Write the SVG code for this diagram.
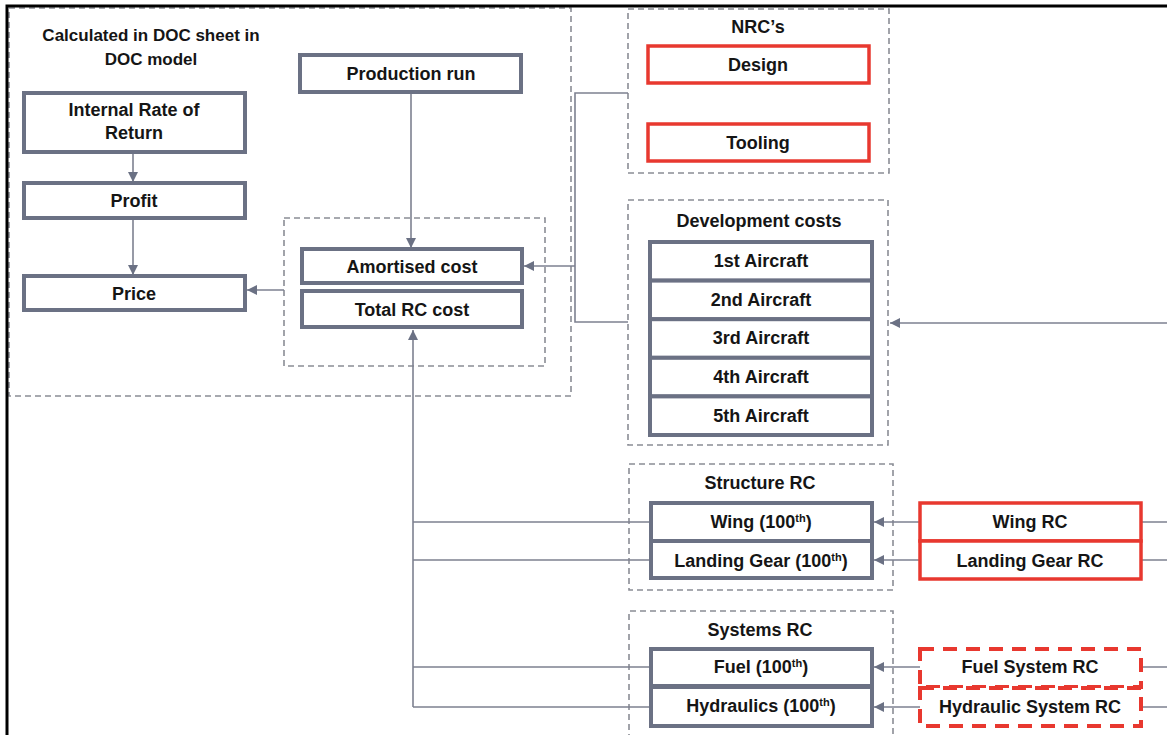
<svg xmlns="http://www.w3.org/2000/svg" width="1167" height="735" viewBox="0 0 1167 735">
<defs>
<style>
text{font-family:"Liberation Sans",Arial,sans-serif;font-weight:bold;font-size:18px;fill:#151515;text-anchor:middle}
.t{font-size:17px}
.box{fill:#fff;stroke:#6b7184;stroke-width:4}
.red{fill:#fff;stroke:#e8382f;stroke-width:3.5}
.reddash{fill:#fff;stroke:#e8382f;stroke-width:4;stroke-dasharray:14 9}
.grp{fill:none;stroke:#8a8d95;stroke-width:1.6;stroke-dasharray:6 4}
.c{fill:none;stroke:#7d8190;stroke-width:1.6}
.frame{stroke:#000;stroke-width:3;fill:none}
.sup{font-size:11px}
</style>
<marker id="ah" viewBox="0 0 10 10" refX="10" refY="5" markerWidth="10" markerHeight="10" markerUnits="userSpaceOnUse" orient="auto">
<path d="M0,0 L10,5 L0,10 Z" fill="#6b7184"/>
</marker>
</defs>
<rect width="1167" height="735" fill="#fff"/>

<g id="groups">
<rect id="doc-group" class="grp" x="9" y="8" width="562" height="388"/>
<rect id="cost-group" class="grp" x="284" y="218" width="261" height="148"/>
<rect id="nrc-group" class="grp" x="628" y="9" width="261" height="164"/>
<rect id="dev-group" class="grp" x="628" y="200" width="260" height="245"/>
<rect id="struct-group" class="grp" x="629" y="464" width="264" height="126"/>
<path id="sys-group" class="grp" d="M629,740 V611 H893 V740"/>
</g>

<g id="frame">
<path class="frame" d="M7,735 V6 H1167"/>
</g>

<g id="connectors">
<path class="c" d="M133,152 V182" marker-end="url(#ah)"/>
<path class="c" d="M133,218 V275" marker-end="url(#ah)"/>
<path class="c" d="M411,92 V248" marker-end="url(#ah)"/>
<path class="c" d="M284,290 H247" marker-end="url(#ah)"/>
<path class="c" d="M628,93 H575 V322 H628"/>
<path class="c" d="M575,266 H524" marker-end="url(#ah)"/>
<path class="c" d="M1167,323 H890" marker-end="url(#ah)"/>
<path class="c" d="M920,522 H874" marker-end="url(#ah)"/>
<path class="c" d="M920,560 H874" marker-end="url(#ah)"/>
<path class="c" d="M920,667 H874" marker-end="url(#ah)"/>
<path class="c" d="M920,707 H874" marker-end="url(#ah)"/>
<path class="c" d="M1141,522 H1167 M1141,560 H1167 M1141,667 H1167 M1141,707 H1167"/>
<path class="c" d="M651,522 H413 M651,560 H413 M651,667 H413 M651,707 H413"/>
<path class="c" d="M413,707 V330" marker-end="url(#ah)"/>
</g>

<g id="doc-title">
<text class="t" x="151" y="41">Calculated in DOC sheet in</text>
<text class="t" x="151" y="65">DOC model</text>
</g>

<g id="irr">
<rect class="box" x="24" y="93" width="221" height="59"/>
<text x="134" y="116">Internal Rate of</text>
<text x="134" y="139">Return</text>
</g>
<g id="profit">
<rect class="box" x="24" y="183" width="221" height="35"/>
<text x="134" y="207">Profit</text>
</g>
<g id="price">
<rect class="box" x="24" y="276" width="221" height="34"/>
<text x="134" y="300">Price</text>
</g>
<g id="production-run">
<rect class="box" x="300" y="55" width="221" height="37"/>
<text x="411" y="80">Production run</text>
</g>
<g id="amortised-cost">
<rect class="box" x="302" y="249" width="220" height="34"/>
<text x="412" y="273">Amortised cost</text>
</g>
<g id="total-rc-cost">
<rect class="box" x="302" y="291" width="220" height="36"/>
<text x="412" y="316">Total RC cost</text>
</g>

<g id="nrcs">
<text x="758" y="33">NRC’s</text>
</g>
<g id="design">
<rect class="red" x="648" y="46" width="221" height="37"/>
<text x="758" y="71">Design</text>
</g>
<g id="tooling">
<rect class="red" x="648" y="124" width="221" height="37"/>
<text x="758" y="149">Tooling</text>
</g>

<g id="development-costs">
<text x="759" y="227">Development costs</text>
</g>
<g id="aircraft-1">
<rect class="box" x="650" y="242" width="222" height="38.6"/>
<text x="761" y="267">1st Aircraft</text>
</g>
<g id="aircraft-2">
<rect class="box" x="650" y="280.6" width="222" height="38.6"/>
<text x="761" y="306">2nd Aircraft</text>
</g>
<g id="aircraft-3">
<rect class="box" x="650" y="319.2" width="222" height="38.6"/>
<text x="761" y="344">3rd Aircraft</text>
</g>
<g id="aircraft-4">
<rect class="box" x="650" y="357.8" width="222" height="38.6"/>
<text x="761" y="383">4th Aircraft</text>
</g>
<g id="aircraft-5">
<rect class="box" x="650" y="396.4" width="222" height="38.6"/>
<text x="761" y="422">5th Aircraft</text>
</g>

<g id="structure-rc">
<text x="760" y="489">Structure RC</text>
</g>
<g id="wing">
<rect class="box" x="651" y="503" width="221" height="38"/>
<text x="761" y="528">Wing (100<tspan class="sup" dy="-6">th</tspan><tspan dy="6">)</tspan></text>
</g>
<g id="landing-gear">
<rect class="box" x="651" y="541" width="221" height="37"/>
<text x="761" y="567">Landing Gear (100<tspan class="sup" dy="-6">th</tspan><tspan dy="6">)</tspan></text>
</g>
<g id="wing-rc">
<rect class="red" x="920" y="503" width="221" height="38"/>
<text x="1030" y="528">Wing RC</text>
</g>
<g id="landing-gear-rc">
<rect class="red" x="920" y="541" width="221" height="38"/>
<text x="1030" y="567">Landing Gear RC</text>
</g>

<g id="systems-rc">
<text x="760" y="636">Systems RC</text>
</g>
<g id="fuel">
<rect class="box" x="651" y="649" width="221" height="37"/>
<text x="761" y="673">Fuel (100<tspan class="sup" dy="-6">th</tspan><tspan dy="6">)</tspan></text>
</g>
<g id="hydraulics">
<rect class="box" x="651" y="687" width="221" height="39"/>
<text x="761" y="712">Hydraulics (100<tspan class="sup" dy="-6">th</tspan><tspan dy="6">)</tspan></text>
</g>
<g id="fuel-system-rc">
<rect class="reddash" x="920" y="649" width="221" height="38"/>
<text x="1030" y="673">Fuel System RC</text>
</g>
<g id="hydraulic-system-rc">
<rect class="reddash" x="920" y="688" width="221" height="38"/>
<text x="1030" y="713">Hydraulic System RC</text>
</g>
</svg>
